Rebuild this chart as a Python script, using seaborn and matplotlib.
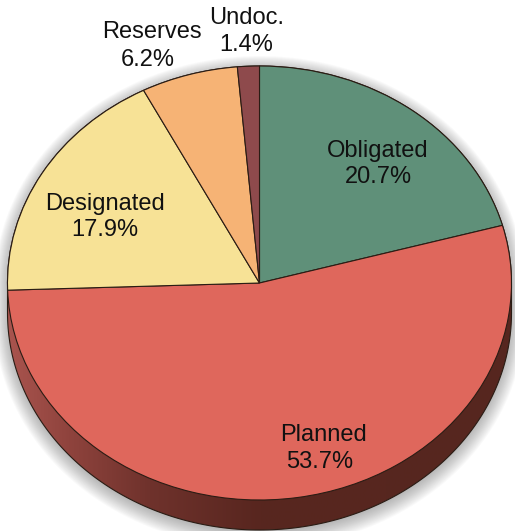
import numpy as np
import matplotlib
matplotlib.use("Agg")
import matplotlib.pyplot as plt
import seaborn as sns
from matplotlib.colors import LinearSegmentedColormap
from matplotlib.patches import Polygon

categories = ["Obligated", "Planned", "Designated", "Reserves", "Undoc."]
values = [20.7, 53.7, 17.9, 6.2, 1.4]
colors = ["#5F9079", "#DF675C", "#F7E296", "#F6B375", "#8E4A4C"]
label_pos = {"Obligated": ((378, 151), (378, 177)),
             "Planned": ((324, 435), (320, 462)),
             "Designated": ((105, 204), (105, 230)),
             "Reserves": ((152, 32), (148, 60)),
             "Undoc.": ((247, 18), (246, 45))}

W, H = 515, 531
CX, CY, RX, RY = 259.5, 283, 252, 217
DEPTH = 30

sns.set_theme(style="white")
plt.rcParams["font.family"] = ["Liberation Sans", "DejaVu Sans"]

fig = plt.figure(figsize=(W / 100, H / 100), dpi=100, facecolor="white")
ax = fig.add_axes([0, 0, 1, 1])

wedges, _ = ax.pie(values, colors=sns.color_palette(colors), startangle=90, counterclock=False,
                   radius=1, wedgeprops=dict(edgecolor="#2a1c14", linewidth=0.8, zorder=5))
ax.set_aspect("auto")

d = DEPTH / RY
lower_t = np.linspace(np.pi, 2 * np.pi, 181)
upper_t = np.linspace(0, np.pi, 181)
side_xy = np.r_[np.c_[np.cos(upper_t), np.sin(upper_t)],
                np.c_[np.cos(lower_t), np.sin(lower_t) - d]]

# soft drop shadow
for k in range(16, 0, -1):
    sx = 1 + (k - 3) / RX
    sy = 1 + (k - 3) / RY
    ax.add_patch(Polygon(np.c_[side_xy[:, 0] * sx, side_xy[:, 1] * sy - 3 / RY],
                         closed=True, fc="#555555", ec="none", alpha=0.03, zorder=1))

# wall of the disc
side = Polygon(side_xy, closed=True, fc="none", ec="#2a1c14", lw=0.8, zorder=3)
ax.add_patch(side)
cmap = LinearSegmentedColormap.from_list(
    "wall", [(0, "#A9544E"), (0.12, "#8F433D"), (0.28, "#6F322C"), (0.5, "#58261F"), (1, "#56271F")])
img = ax.imshow(np.linspace(0, 1, 256)[None, :], cmap=cmap, aspect="auto", zorder=2,
                extent=(-1, 1, -1.3, 1), interpolation="bilinear")
img.set_clip_path(side)
ax.set_xlim(-CX / RX, (W - CX) / RX)
ax.set_ylim((CY - H) / RY, CY / RY)

for name, v in zip(categories, values):
    (x1, y1), (x2, y2) = label_pos[name]
    for (x, y), s in (((x1, y1), name), ((x2, y2), f"{v}%")):
        ax.text((x - CX) / RX, (CY - y) / RY, s, fontsize=17, color="#111111",
                ha="center", va="center", zorder=10)

ax.axis("off")
fig.savefig("out.png", dpi=100, facecolor="white")
